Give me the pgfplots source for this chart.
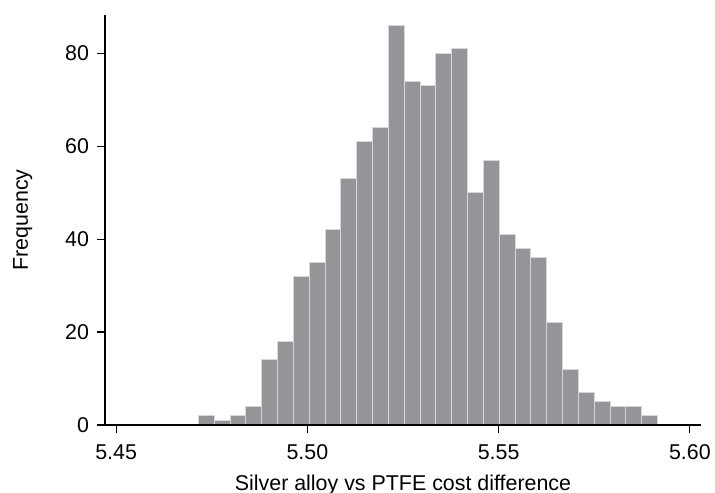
\documentclass[border=0pt]{standalone}
\usepackage{fontspec}
\setmainfont{Liberation Sans}
\usepackage{pgfplots}
\pgfplotsset{compat=1.18}
\definecolor{barfill}{RGB}{148,149,153}
\definecolor{baredge}{RGB}{215,215,215}
\begin{document}
\begin{tikzpicture}
\begin{axis}[
  scale only axis,
  width=596bp, height=410bp,
  xmin=5.4471, xmax=5.6029,
  ymin=0, ymax=88.2,
  axis x line*=bottom,
  axis y line*=left,
  axis on top,
  axis line style={line width=1.1bp, black},
  xtick pos=bottom, ytick pos=left,
  tick align=outside,
  tick style={black, line width=1.1bp},
  major tick length=7.5bp,
  xtick={5.45,5.50,5.55,5.60},
  ytick={0,20,40,60,80},
  xticklabel style={/pgf/number format/.cd, fixed, fixed zerofill, precision=2},
  /pgf/number format/assume math mode=true,
  xticklabel shift=9bp,
  yticklabel shift=5bp,
  tick label style={font=\fontsize{21.4bp}{25bp}\selectfont, text=black},
  label style={font=\fontsize{21.4bp}{25bp}\selectfont, text=black},
  xlabel={Silver alloy vs PTFE cost difference},
  ylabel={Frequency},
  xlabel style={at={(axis description cs:0.5,0)}, anchor=base, yshift=-65bp},
  ylabel style={at={(axis description cs:-0.1292,0.5)}, rotate=0, anchor=base},
  clip=false,
]
\addplot[ybar interval, fill=barfill, draw=baredge, line width=1bp] coordinates {
(5.47150,2) (5.47564,1) (5.47978,2) (5.48392,4) (5.48806,14)
(5.49220,18) (5.49634,32) (5.50048,35) (5.50462,42) (5.50876,53)
(5.51290,61) (5.51704,64) (5.52118,86) (5.52532,74) (5.52946,73)
(5.53360,80) (5.53774,81) (5.54188,50) (5.54602,57) (5.55016,41)
(5.55430,38) (5.55844,36) (5.56258,22) (5.56672,12) (5.57086,7)
(5.57500,5) (5.57914,4) (5.58328,4) (5.58742,2) (5.59156,2)
};
\end{axis}
\pgfresetboundingbox
\path ([shift={(-105bp,-68bp)}]current axis.south west) rectangle ([shift={(14bp,15bp)}]current axis.north east);
\end{tikzpicture}
\end{document}
